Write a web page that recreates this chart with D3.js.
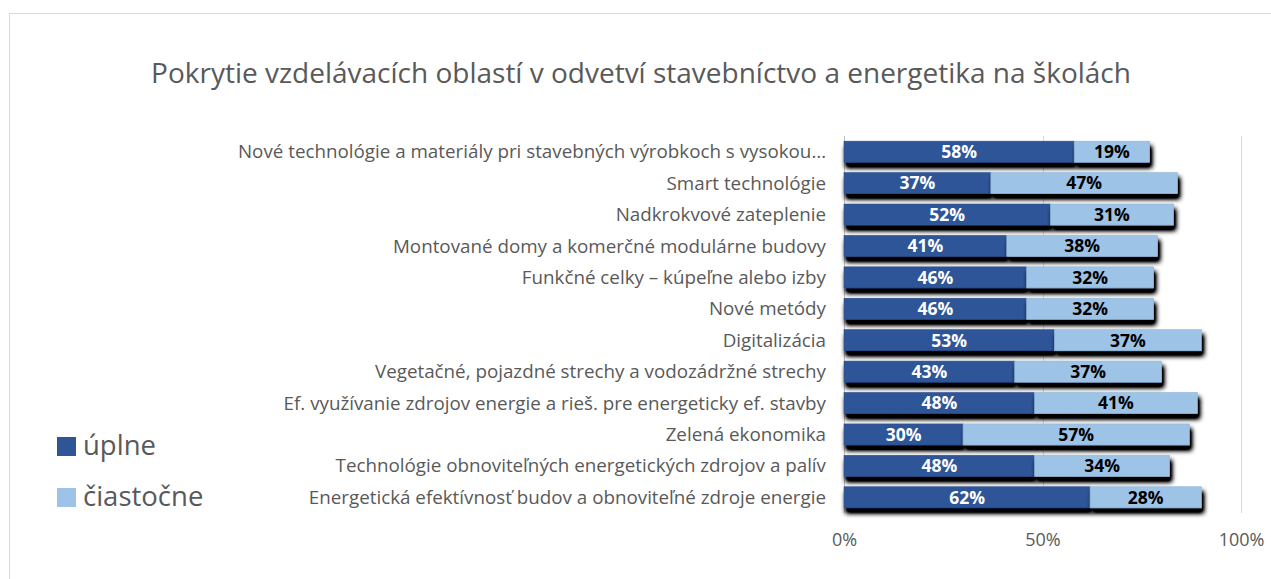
<!DOCTYPE html>
<html>
<head>
<meta charset="utf-8">
<script src="https://cdn.jsdelivr.net/npm/d3@7"></script>
<style>
  body { margin: 0; background: #fff; }
  svg { display: block; font-family: "Open Sans", Lato, sans-serif; }
</style>
</head>
<body>
<svg id="chart" width="1271" height="579"></svg>
<script>
// categories top -> bottom
const categories = [
  'Nové technológie a materiály pri stavebných výrobkoch s vysokou…',
  'Smart technológie',
  'Nadkrokvové zateplenie',
  'Montované domy a komerčné modulárne budovy',
  'Funkčné celky – kúpeľne alebo izby',
  'Nové metódy',
  'Digitalizácia',
  'Vegetačné, pojazdné strechy a vodozádržné strechy',
  'Ef. využívanie zdrojov energie a rieš. pre energeticky ef. stavby',
  'Zelená ekonomika',
  'Technológie obnoviteľných energetických zdrojov a palív',
  'Energetická efektívnosť budov a obnoviteľné zdroje energie'
];
const uplne = [58, 37, 52, 41, 46, 46, 53, 43, 48, 30, 48, 62];
const ciastocne = [19, 47, 31, 38, 32, 32, 37, 37, 41, 57, 34, 28];
const seriesNames = ['úplne', 'čiastočne'];
const xTicks = [0, 50, 100];
const title = 'Pokrytie vzdelávacích oblastí v odvetví stavebníctvo a energetika na školách';

const colors = ['#2F5597', '#9DC3E6'];
const textGrey = '#595959';

const svg = d3.select('#chart');

// drop shadow for bars
const defs = svg.append('defs');
const f = defs.append('filter').attr('id', 'shadow')
  .attr('x', '-5%').attr('y', '-40%').attr('width', '115%').attr('height', '220%');
f.append('feGaussianBlur').attr('in', 'SourceAlpha').attr('stdDeviation', 2.5).attr('result', 'blur');
f.append('feOffset').attr('in', 'blur').attr('dx', 2).attr('dy', 5).attr('result', 'off');
f.append('feComponentTransfer').attr('in', 'off').attr('result', 'sh')
  .append('feFuncA').attr('type', 'linear').attr('slope', 1.6);
const merge = f.append('feMerge');
merge.append('feMergeNode').attr('in', 'sh');
merge.append('feMergeNode').attr('in', 'SourceGraphic');

// chart border
svg.append('rect')
  .attr('x', 9.5).attr('y', 13.5)
  .attr('width', 1300).attr('height', 620)
  .attr('fill', '#fff').attr('stroke', '#d9d9d9');

svg.append('text')
  .attr('x', 641).attr('y', 83)
  .attr('text-anchor', 'middle')
  .attr('font-size', 28)
  .attr('fill', textGrey)
  .text(title);

const x = d3.scaleLinear().domain([0, 100]).range([844, 1241]);
const y = d3.scaleBand().domain(categories).range([136, 513]).paddingInner(0.33).paddingOuter(0.165);

// gridlines
svg.append('g').selectAll('line')
  .data(xTicks)
  .join('line')
  .attr('x1', d => Math.round(x(d)) + 0.5).attr('x2', d => Math.round(x(d)) + 0.5)
  .attr('y1', 136).attr('y2', 513)
  .attr('stroke', d => d === 0 ? '#bfbfbf' : '#d9d9d9');

// x axis labels
const xAxis = svg.append('g')
  .attr('transform', 'translate(0,' + 528 + ')')
  .call(d3.axisBottom(x).tickValues(xTicks).tickFormat(d => d + '%').tickSize(0).tickPadding(5));
xAxis.select('.domain').remove();
xAxis.selectAll('text')
  .attr('font-size', 18)
  .attr('font-family', '"Open Sans", Lato, sans-serif')
  .attr('fill', textGrey);

// category labels
svg.append('g').selectAll('text')
  .data(categories)
  .join('text')
  .attr('x', 826)
  .attr('y', d => y(d) + y.bandwidth() / 2)
  .attr('dy', '0.35em')
  .attr('text-anchor', 'end')
  .attr('font-size', 18.8)
  .attr('fill', textGrey)
  .text(d => d);

// stacked bars
const rows = categories.map((c, i) => ({cat: c, vals: [uplne[i], ciastocne[i]]}));
const segs = [];
rows.forEach(r => {
  let acc = 0;
  r.vals.forEach((v, k) => {
    segs.push({cat: r.cat, k: k, x0: acc, x1: acc + v, v: v});
    acc += v;
  });
});

svg.append('g').selectAll('rect')
  .data(segs)
  .join('rect')
  .attr('x', d => x(d.x0))
  .attr('y', d => y(d.cat))
  .attr('width', d => x(d.x1) - x(d.x0))
  .attr('height', y.bandwidth())
  .attr('fill', d => colors[d.k])
  .attr('stroke', d => d.k === 0 ? '#2a4d8a' : '#8fb5d9')
  .attr('stroke-width', 0.6)
  .attr('filter', 'url(#shadow)');

svg.append('g').selectAll('text')
  .data(segs)
  .join('text')
  .attr('x', d => (x(d.x0) + x(d.x1)) / 2)
  .attr('y', d => y(d.cat) + y.bandwidth() / 2)
  .attr('dy', '0.36em')
  .attr('text-anchor', 'middle')
  .attr('font-size', 17.5)
  .attr('font-weight', 'bold')
  .attr('fill', d => d.k === 0 ? '#fff' : '#000')
  .text(d => d.v + '%');

// legend
const leg = svg.append('g').selectAll('g')
  .data(seriesNames)
  .join('g')
  .attr('transform', (d, i) => 'translate(57,' + (437 + i * 51) + ')');
leg.append('rect')
  .attr('width', 19).attr('height', 19)
  .attr('fill', (d, i) => colors[i]);
leg.append('text')
  .attr('x', 26).attr('y', 18)
  .attr('font-size', 27.5)
  .attr('fill', textGrey)
  .text(d => d);
</script>
</body>
</html>
